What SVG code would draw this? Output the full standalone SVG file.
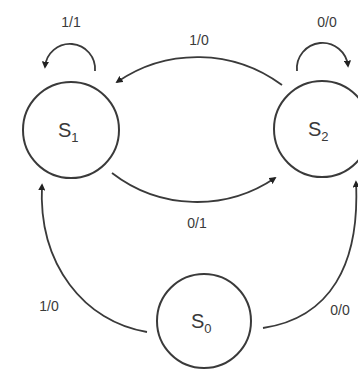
<svg xmlns="http://www.w3.org/2000/svg" width="358" height="369" viewBox="0 0 358 369">
<style>
.node{fill:none;stroke:#3a3a3a;stroke-width:2}
.edge{fill:none;stroke:#3a3a3a;stroke-width:1.8;marker-end:url(#arr)}
.st{font-family:"Liberation Sans",Arial,sans-serif;font-size:20px;fill:#3a3a3a}
.sub{font-size:13px}
.lbl{font-family:"Liberation Sans",Arial,sans-serif;font-size:14px;fill:#3a3a3a;text-anchor:middle}
</style>
<defs>
<marker id="arr" viewBox="0 0 8 8" refX="6" refY="4" markerWidth="4" markerHeight="4" orient="auto" markerUnits="strokeWidth">
<path d="M0,0 L8,4 L0,8 z" fill="#222"/>
</marker>
</defs>
<rect width="358" height="369" fill="#fff"/>
<g id="connectors">
<path class="edge" d="M95,71 A25 25 0 1 0 45,67"/>
<path class="edge" d="M297,71 A25 25 0 1 1 348,66"/>
<path class="edge" d="M282,85 A142 142 0 0 0 117,82"/>
<path class="edge" d="M112,173 A139 139 0 0 0 275,178"/>
<path class="edge" d="M147,332 C85,322 38,265 42,185"/>
<path class="edge" d="M263,328 C330,318 360,265 356,182"/>
</g>
<g id="labels">
<text class="lbl" x="71" y="27">1/1</text>
<text class="lbl" x="327" y="27">0/0</text>
<text class="lbl" x="199" y="45">1/0</text>
<text class="lbl" x="197" y="228">0/1</text>
<text class="lbl" x="49" y="311">1/0</text>
<text class="lbl" x="340" y="315">0/0</text>
</g>
<g id="S1">
<circle class="node" cx="71" cy="130" r="48"/>
<text class="st" x="58" y="137">S<tspan class="sub" dy="5">1</tspan></text>
</g>
<g id="S2">
<circle class="node" cx="322" cy="129" r="48"/>
<text class="st" x="308" y="136">S<tspan class="sub" dy="5">2</tspan></text>
</g>
<g id="S0">
<circle class="node" cx="204" cy="321" r="47"/>
<text class="st" x="191" y="328">S<tspan class="sub" dy="5">0</tspan></text>
</g>
</svg>
